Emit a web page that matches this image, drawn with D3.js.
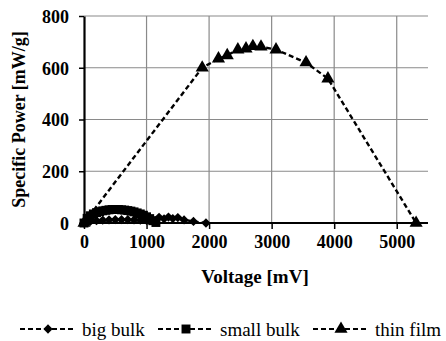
<!DOCTYPE html>
<html>
<head>
<meta charset="utf-8">
<script src="https://cdn.jsdelivr.net/npm/d3@7"></script>
<style>
body { margin: 0; background: #fff; }
svg text { font-family: "Liberation Serif", "Times New Roman", serif; }
</style>
</head>
<body>
<script>
// Данные
var xTicks = [0, 1000, 2000, 3000, 4000, 5000];
var yTicks = [0, 200, 400, 600, 800];

var bigBulkX = [0, 100, 200, 300, 400, 500, 600, 700, 800, 900, 1000, 1100, 1200, 1280, 1350, 1420, 1500, 1600, 1750, 1950];
var bigBulkY = [0, 6, 9, 11, 12, 13, 13, 13, 12, 11, 10, 12, 22, 16, 23, 17, 21, 12, 6, 0];

var smallBulkX = [0, 50, 100, 150, 200, 250, 300, 350, 400, 450, 500, 550, 600, 650, 700, 750, 800, 850, 900, 950, 1000, 1050, 1100, 1150];
var smallBulkY = [0, 18, 28, 35, 40, 44, 47, 49, 51, 52, 52, 52, 51, 50, 48, 46, 43, 39, 35, 30, 24, 17, 9, 2];

var thinFilmX = [0, 1890, 2150, 2290, 2460, 2590, 2700, 2830, 3070, 3550, 3900, 5310];
var thinFilmY = [0, 600, 635, 648, 670, 674, 683, 681, 670, 620, 558, 0];

var names = ["big bulk", "small bulk", "thin film"];

var width = 446, height = 341;
var margin = {left: 84, right: 18, top: 16, bottom: 118};
var serif = "'Liberation Serif', 'Times New Roman', serif";

var svg = d3.select("body").append("svg")
	.attr("width", width)
	.attr("height", height);

var x = d3.scaleLinear().domain([0, 5500]).range([margin.left, width - margin.right]);
var y = d3.scaleLinear().domain([0, 800]).range([height - margin.bottom, margin.top]);

// Сетка
svg.append("g").selectAll("line")
	.data(yTicks.slice(1))
	.join("line")
	.attr("x1", x(0)).attr("x2", x(5500))
	.attr("y1", d => y(d)).attr("y2", d => y(d))
	.attr("stroke", "#8a8a8a").attr("stroke-width", 1.2);

svg.append("g").selectAll("line")
	.data(xTicks.slice(1))
	.join("line")
	.attr("x1", d => x(d)).attr("x2", d => x(d))
	.attr("y1", y(0)).attr("y2", y(800))
	.attr("stroke", "#8a8a8a").attr("stroke-width", 1.2);

// Оси
var xAxis = svg.append("g")
	.attr("transform", "translate(0," + y(0) + ")")
	.call(d3.axisBottom(x).tickValues(xTicks).tickFormat(d3.format("d")).tickSize(6).tickPadding(6).tickSizeOuter(0));
var yAxis = svg.append("g")
	.attr("transform", "translate(" + x(0) + ",0)")
	.call(d3.axisLeft(y).tickValues(yTicks).tickFormat(d3.format("d")).tickSize(5).tickPadding(10).tickSizeOuter(0));

[xAxis, yAxis].forEach(function(a) {
	a.attr("font-family", null).attr("font-size", null);
	a.select(".domain").attr("stroke", "#000").attr("stroke-width", 2.2);
	a.selectAll(".tick line").attr("stroke", "#000").attr("stroke-width", 1.5);
	a.selectAll(".tick text")
		.attr("fill", "#000")
		.style("font-size", "18px")
		.style("font-weight", "bold")
		.style("font-family", serif);
});
xAxis.select(".domain").attr("d", "M" + x(0) + ",0H" + x(5500));
yAxis.selectAll(".tick text").attr("dy", "0.35em");

// Подписи осей
svg.append("text")
	.attr("x", 255).attr("y", 283)
	.attr("text-anchor", "middle")
	.style("font-size", "19px").style("font-weight", "bold").style("font-family", serif)
	.text("Voltage [mV]");

svg.append("text")
	.attr("transform", "translate(25," + ((y(0) + y(800)) / 2) + ") rotate(-90)")
	.attr("text-anchor", "middle")
	.style("font-size", "18px").style("font-weight", "bold").style("font-family", serif)
	.text("Specific Power [mW/g]");

// Серии
var series = [
	{xs: bigBulkX, ys: bigBulkY, sym: d3.symbolDiamond2, size: 55},
	{xs: smallBulkX, ys: smallBulkY, sym: d3.symbolSquare, size: 80},
	{xs: thinFilmX, ys: thinFilmY, sym: d3.symbolTriangle, size: 75}
];

var line = d3.line().x(d => x(d[0])).y(d => y(d[1]));

series.forEach(function(s) {
	var pts = s.xs.map((v, i) => [v, s.ys[i]]);
	svg.append("path")
		.datum(pts)
		.attr("d", line)
		.attr("fill", "none")
		.attr("stroke", "#000")
		.attr("stroke-width", 2.4)
		.attr("stroke-dasharray", "5,3");
	svg.append("g").selectAll("path")
		.data(pts)
		.join("path")
		.attr("transform", d => "translate(" + x(d[0]) + "," + y(d[1]) + ")")
		.attr("d", d3.symbol().type(s.sym).size(s.size))
		.attr("fill", "#000");
});

// Легенда
var legendX = [20, 158, 313];
var legend = svg.append("g").selectAll("g")
	.data(series)
	.join("g")
	.attr("transform", (d, i) => "translate(" + legendX[i] + ",329)");

legend.append("line")
	.attr("x1", 0).attr("x2", 56)
	.attr("stroke", "#000").attr("stroke-width", 2)
	.attr("stroke-dasharray", "5,3");
legend.append("path")
	.attr("transform", "translate(28,0)")
	.attr("d", d => d3.symbol().type(d.sym).size(d.size)())
	.attr("fill", "#000");
legend.append("text")
	.attr("x", 62).attr("dy", "0.35em")
	.style("font-size", "19px").style("font-family", serif)
	.text((d, i) => names[i]);
</script>
</body>
</html>
